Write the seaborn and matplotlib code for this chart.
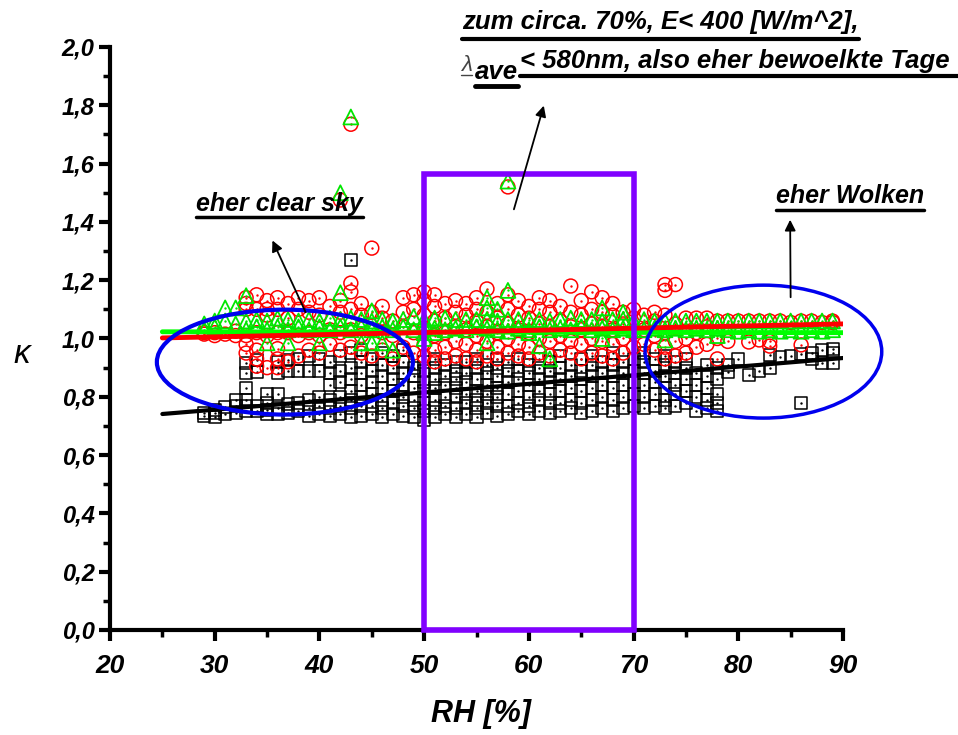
import matplotlib
matplotlib.use("Agg")
import matplotlib.pyplot as plt
import seaborn as sns
import pandas as pd
from matplotlib.patches import Ellipse, Rectangle
from matplotlib.lines import Line2D
from matplotlib.ticker import MultipleLocator

# ---------------- data ----------------
black_cols = [
    (29, [0.735, 0.745]), (30, [0.73, 0.745, 0.755]), (31, [0.74, 0.765]),
    (32, [0.745, 0.77, 0.79]), (33, [0.75, 0.77, 0.79, 0.83, 0.88, 0.915]),
    (34, [0.75, 0.77, 0.885, 0.925]), (35, [0.74, 0.755, 0.78, 0.81]),
    (36, [0.74, 0.76, 0.81, 0.88, 0.92]), (37, [0.745, 0.775, 0.89, 0.925]),
    (38, [0.75, 0.78, 0.89, 0.93]), (39, [0.735, 0.76, 0.79, 0.89, 0.94]),
    (40, [0.74, 0.77, 0.80, 0.89, 0.93]), (41, [0.735, 0.76, 0.79, 0.84, 0.88, 0.92]),
    (42, [0.74, 0.77, 0.80, 0.85, 0.89, 0.94]),
    (43, [0.73, 0.76, 0.79, 0.82, 0.86, 0.90, 0.95, 1.27]),
    (44, [0.735, 0.77, 0.80, 0.84, 0.88, 0.92, 0.96]),
    (45, [0.74, 0.77, 0.81, 0.85, 0.89, 0.93]),
    (46, [0.73, 0.76, 0.79, 0.83, 0.87, 0.91, 0.95]),
    (47, [0.74, 0.78, 0.82, 0.86, 0.90, 0.94]),
    (48, [0.735, 0.77, 0.80, 0.84, 0.88, 0.92, 0.96]),
    (49, [0.73, 0.76, 0.79, 0.83, 0.87, 0.90]),
    (50, [0.72, 0.75, 0.78, 0.82, 0.85, 0.89, 0.92]),
    (51, [0.73, 0.76, 0.79, 0.83, 0.86, 0.90, 0.93]),
    (52, [0.74, 0.77, 0.80, 0.84, 0.87, 0.91]),
    (53, [0.73, 0.76, 0.80, 0.83, 0.86, 0.89, 0.92]),
    (54, [0.74, 0.78, 0.81, 0.85, 0.88, 0.92]),
    (55, [0.73, 0.76, 0.79, 0.82, 0.86, 0.90, 0.93]),
    (56, [0.745, 0.78, 0.81, 0.84, 0.88, 0.91]),
    (57, [0.735, 0.77, 0.80, 0.83, 0.87, 0.90, 0.93]),
    (58, [0.74, 0.77, 0.81, 0.85, 0.89, 0.92]),
    (59, [0.75, 0.78, 0.82, 0.86, 0.89, 0.93]),
    (60, [0.74, 0.77, 0.80, 0.84, 0.88, 0.91]),
    (61, [0.75, 0.79, 0.82, 0.86, 0.90, 0.93]),
    (62, [0.745, 0.78, 0.81, 0.85, 0.89, 0.92]),
    (63, [0.75, 0.78, 0.82, 0.86, 0.90, 0.94]),
    (64, [0.76, 0.79, 0.83, 0.87, 0.91]),
    (65, [0.745, 0.78, 0.82, 0.86, 0.89, 0.93]),
    (66, [0.75, 0.79, 0.83, 0.87, 0.91, 0.94]),
    (67, [0.76, 0.80, 0.84, 0.88, 0.92]),
    (68, [0.75, 0.79, 0.83, 0.87, 0.91, 0.95]),
    (69, [0.76, 0.80, 0.84, 0.88, 0.92]),
    (70, [0.77, 0.81, 0.85, 0.89, 0.93]),
    (71, [0.76, 0.80, 0.84, 0.88, 0.92, 0.95]),
    (72, [0.77, 0.81, 0.85, 0.89, 0.93]),
    (73, [0.76, 0.79, 0.83, 0.87, 0.91, 0.94]),
    (74, [0.77, 0.81, 0.84, 0.88, 0.92]),
    (75, [0.78, 0.82, 0.86, 0.90, 0.93]),
    (76, [0.75, 0.80, 0.84, 0.88]),
    (77, [0.76, 0.79, 0.83, 0.87, 0.91]),
    (78, [0.75, 0.78, 0.81, 0.86, 0.90]),
    (79, [0.885, 0.91]), (80, [0.93]), (81, [0.875]), (82, [0.89]),
    (83, [0.90, 0.943]), (84, [0.936]), (85, [0.94]), (86, [0.78, 0.946]),
    (87, [0.93, 0.95]), (88, [0.915, 0.96]), (89, [0.915, 0.95, 0.964]),
]

red_cols = [
    (29, [1.015, 1.02]), (30, [1.01, 1.02]), (31, [1.015]), (32, [1.01, 1.025]),
    (33, [0.95, 0.98, 1.01, 1.10, 1.12, 1.14]),
    (34, [0.905, 0.93, 0.96, 1.02, 1.10, 1.15]),
    (35, [0.90, 1.01, 1.08, 1.10, 1.13]),
    (36, [0.90, 0.93, 0.965, 1.02, 1.10, 1.14]),
    (37, [0.92, 1.02, 1.07, 1.12]), (38, [0.94, 1.01, 1.10, 1.14]),
    (39, [0.96, 1.02, 1.09, 1.13]), (40, [0.95, 1.01, 1.08, 1.14]),
    (41, [0.98, 1.03, 1.11]), (42, [0.96, 1.02, 1.09, 1.13, 1.475]),
    (43, [0.97, 1.03, 1.10, 1.16, 1.19, 1.735]),
    (44, [0.95, 1.01, 1.08, 1.12]), (45, [0.94, 1.03, 1.09, 1.31]),
    (46, [0.96, 1.02, 1.07, 1.11]), (47, [0.93, 1.01, 1.06]),
    (48, [0.97, 1.04, 1.09, 1.14]), (49, [0.95, 1.02, 1.10, 1.15]),
    (50, [0.94, 0.98, 1.03, 1.08, 1.13, 1.16]),
    (51, [0.92, 0.96, 1.01, 1.06, 1.11, 1.15]),
    (52, [0.93, 0.97, 1.02, 1.07, 1.12]),
    (53, [0.94, 0.99, 1.04, 1.09, 1.13]),
    (54, [0.93, 0.98, 1.03, 1.08, 1.12]),
    (55, [0.92, 0.96, 1.01, 1.06, 1.10, 1.14]),
    (56, [0.94, 0.99, 1.04, 1.09, 1.17]),
    (57, [0.93, 0.97, 1.02, 1.07, 1.12]),
    (58, [0.95, 1.00, 1.05, 1.10, 1.15, 1.52]),
    (59, [0.94, 0.98, 1.03, 1.08, 1.13]),
    (60, [0.93, 0.97, 1.02, 1.07, 1.11]),
    (61, [0.95, 1.00, 1.05, 1.10, 1.14]),
    (62, [0.94, 0.99, 1.04, 1.09, 1.13]),
    (63, [0.96, 1.01, 1.06, 1.11]),
    (64, [0.95, 0.99, 1.04, 1.09, 1.18]),
    (65, [0.93, 0.98, 1.03, 1.08, 1.13]),
    (66, [0.95, 1.00, 1.05, 1.10, 1.16]),
    (67, [0.94, 0.99, 1.04, 1.09, 1.14]),
    (68, [0.93, 0.98, 1.03, 1.08, 1.12]),
    (69, [0.95, 1.00, 1.05, 1.09]), (70, [0.97, 1.02, 1.07, 1.10]),
    (71, [0.98, 1.03, 1.08]), (72, [0.96, 1.01, 1.06, 1.09]),
    (73, [0.93, 0.97, 1.02, 1.08, 1.165, 1.185]),
    (74, [0.94, 0.99, 1.05, 1.185]), (75, [0.95, 1.00, 1.07]),
    (76, [0.97, 1.02, 1.07]), (77, [0.98, 1.04, 1.07]), (78, [0.93, 1.00, 1.06]),
    (79, [0.99, 1.06]), (80, [1.06]), (81, [0.988, 1.06]), (82, [0.995, 1.06]),
    (83, [0.974, 0.99, 1.06]), (84, [1.06]), (85, [1.055]), (86, [0.978, 1.06]),
    (87, [1.06]), (88, [1.055]), (89, [1.055, 1.06]),
]

green_cols = [
    (29, [1.03, 1.05]), (30, [1.04, 1.06]), (31, [1.06, 1.105]), (32, [1.05, 1.105]),
    (33, [1.03, 1.06, 1.147]), (34, [1.04, 1.065]), (35, [0.985, 1.03, 1.06]),
    (36, [1.04, 1.07]), (37, [0.985, 1.03, 1.065]), (38, [1.04, 1.06]),
    (39, [1.03, 1.065]), (40, [0.985, 1.04, 1.06]), (41, [1.03, 1.07]),
    (42, [1.04, 1.065, 1.157, 1.50]), (43, [1.03, 1.07, 1.76]),
    (44, [0.985, 1.04, 1.065]), (45, [0.985, 1.03, 1.06, 1.095]),
    (46, [0.985, 1.04, 1.065]), (47, [0.96, 1.03, 1.06]), (48, [1.04, 1.065]),
    (49, [1.03, 1.075]), (50, [1.00, 1.02, 1.04, 1.065]), (51, [1.02, 1.035, 1.07]),
    (52, [1.03, 1.07]), (53, [1.035, 1.065]), (54, [1.03, 1.065]), (55, [1.04, 1.065]),
    (56, [0.985, 1.035, 1.065, 1.105, 1.14]), (57, [1.03, 1.06, 1.10]),
    (58, [1.025, 1.065, 1.165, 1.54]), (59, [1.035, 1.065]), (60, [1.02, 1.03, 1.065]),
    (61, [0.975, 1.04, 1.065]), (62, [0.93, 1.03, 1.06]), (63, [1.035, 1.065]),
    (64, [1.03, 1.07]), (65, [1.04, 1.065]), (66, [1.03, 1.065]),
    (67, [1.00, 1.035, 1.06, 1.105]), (68, [1.03, 1.065]), (69, [1.035, 1.065, 1.09]),
    (70, [1.03, 1.06]), (71, [1.03, 1.065]), (72, [1.035, 1.06]),
    (73, [0.995, 1.03, 1.06]), (74, [1.035, 1.06]), (75, [1.03, 1.06]),
    (76, [1.035, 1.06]), (77, [1.03, 1.06]), (78, [1.01, 1.035, 1.06]),
    (79, [1.03, 1.06]), (80, [1.025, 1.06]), (81, [1.03, 1.06]), (82, [1.025, 1.06]),
    (83, [1.03, 1.06]), (84, [1.025, 1.06]), (85, [1.03, 1.06]), (86, [1.025, 1.06]),
    (87, [1.03, 1.06]), (88, [1.025, 1.06]), (89, [1.03, 1.06]),
]

# linear fits shown in the chart (values at RH = 25 and RH = 90)
fit_rh = [25, 90]
black_fit = [0.741, 0.933]
red_fit = [1.002, 1.05]
green_fit = [1.023, 1.02]

x_ticks = [20, 30, 40, 50, 60, 70, 80, 90]
y_ticks = [0.0, 0.2, 0.4, 0.6, 0.8, 1.0, 1.2, 1.4, 1.6, 1.8, 2.0]
y_tick_labels = ["0,0", "0,2", "0,4", "0,6", "0,8", "1,0", "1,2", "1,4", "1,6", "1,8", "2,0"]


def expand(cols):
    return pd.DataFrame([(rh, k) for rh, ks in cols for k in ks], columns=["RH", "kappa"])


black_df = expand(black_cols)
red_df = expand(red_cols)
green_df = expand(green_cols)

# ---------------- styling ----------------
sns.set_style("ticks")
plt.rcParams["font.family"] = ["Liberation Sans", "DejaVu Sans"]
for key in ["text.color", "axes.labelcolor", "xtick.color", "ytick.color", "axes.edgecolor"]:
    plt.rcParams[key] = "black"

W, H = 958, 735
fig = plt.figure(figsize=(W / 100, H / 100), dpi=100)
ax = fig.add_axes([110 / W, 1 - 630 / H, (843 - 110) / W, (630 - 47) / H])


def hollow(df, marker, color, s, z, lw=1.1):
    sns.scatterplot(data=df, x="RH", y="kappa", marker=marker, s=s, color=color,
                    linewidth=lw, ax=ax, zorder=z, legend=False)
    coll = ax.collections[-1]
    coll.set_facecolor("none")
    coll.set_edgecolor(color)
    sns.scatterplot(data=df, x="RH", y="kappa", marker="o", s=3, color=color,
                    linewidth=0, ax=ax, zorder=z, legend=False)


hollow(black_df, "s", "black", 75, 2)
hollow(red_df, "o", "#ff0000", 100, 3)
hollow(green_df, "^", "#00e600", 115, 4, lw=1.3)

sns.lineplot(x=fit_rh, y=black_fit, color="black", lw=3, ax=ax, zorder=6)
sns.lineplot(x=fit_rh, y=green_fit, color="#00ff00", lw=3.5, ax=ax, zorder=6)
sns.lineplot(x=fit_rh, y=red_fit, color="#ff0000", lw=3.5, ax=ax, zorder=7)

ax.set_xlim(20, 90)
ax.set_ylim(0, 2.0)
for sp in ["top", "right"]:
    ax.spines[sp].set_visible(False)
for sp in ["left", "bottom"]:
    ax.spines[sp].set_linewidth(3)
    ax.spines[sp].set_color("black")

ax.set_xticks(x_ticks)
ax.set_xticklabels([str(v) for v in x_ticks])
ax.set_yticks(y_ticks)
ax.set_yticklabels(y_tick_labels)
ax.xaxis.set_minor_locator(MultipleLocator(5))
ax.yaxis.set_minor_locator(MultipleLocator(0.1))
ax.tick_params(which="major", direction="out", length=8, width=3, colors="black")
ax.tick_params(which="minor", direction="out", length=5, width=2.5, colors="black")
ax.tick_params(axis="x", which="major", pad=9)
ax.tick_params(axis="y", which="major", pad=3)
for lab in ax.get_xticklabels():
    lab.set_fontsize(19); lab.set_fontweight("bold"); lab.set_fontstyle("italic")
for lab in ax.get_yticklabels():
    lab.set_fontsize(17); lab.set_fontweight("bold"); lab.set_fontstyle("italic")

ax.set_xlabel("RH [%]", fontsize=22, fontweight="bold", fontstyle="italic", color="black")
ax.xaxis.set_label_coords(0.506, -0.118)
ax.set_ylabel("κ", fontsize=24, fontstyle="italic", rotation=0, va="center", ha="center",
              color="black")
ax.yaxis.set_label_coords(-0.12, 0.472)

# ---------------- annotations ----------------
ax.add_patch(Rectangle((50, 0), 20, 1.564, fill=False, edgecolor="#8000ff", lw=4,
                       zorder=8, clip_on=False))
ax.add_patch(Ellipse((36.7, 0.919), 24.45, 0.36, fill=False, edgecolor="#0000ee", lw=3,
                     zorder=8, clip_on=False))
ax.add_patch(Ellipse((82.4, 0.955), 22.6, 0.456, fill=False, edgecolor="#0000ee", lw=2.5,
                     zorder=8, clip_on=False))

arrow_kw = dict(arrowstyle="-|>", color="black", lw=1.3, mutation_scale=16)
ax.annotate("", xy=(35.4, 1.345), xytext=(38.8, 1.081), arrowprops=arrow_kw,
            annotation_clip=False, zorder=9)
ax.annotate("", xy=(61.5, 1.808), xytext=(58.5, 1.434), arrowprops=arrow_kw,
            annotation_clip=False, zorder=9)
ax.annotate("", xy=(84.95, 1.417), xytext=(85.0, 1.132), arrowprops=arrow_kw,
            annotation_clip=False, zorder=9)

renderer = fig.canvas.get_renderer()


def utext(px, py, s, uy, size=18, ulw=2.5, weight="bold", color="black",
          x_end=None, **kw):
    t = fig.text(px / W, 1 - py / H, s, fontsize=size, fontweight=weight,
                 fontstyle="italic", color=color, ha="left", va="baseline", **kw)
    bb = t.get_window_extent(renderer)
    x1 = bb.x1 / W if x_end is None else x_end / W
    fig.add_artist(Line2D([bb.x0 / W, x1], [1 - uy / H] * 2, color=color,
                          lw=ulw, transform=fig.transFigure))
    return t


utext(196, 211, "eher clear sky", 217)
utext(776, 203, "eher Wolken", 209.5)
utext(462, 29, "zum circa. 70%, E< 400 [W/m^2],", 39, size=18.5, ulw=3)
utext(461, 71, "λ", 75, size=16, ulw=1, weight="normal", color="#444444")
utext(475, 79, "ave", 85.5, size=18.5, ulw=3.5)
utext(520, 68, "< 580nm, also eher bewoelkte Tage", 75.5, size=18.5, ulw=3, x_end=958)

fig.savefig("out.png", dpi=100)
